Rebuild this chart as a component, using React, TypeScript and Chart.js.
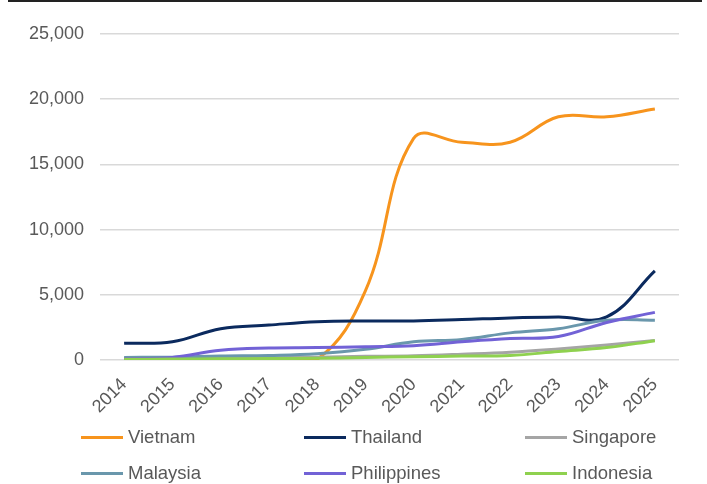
import React, { useEffect, useRef } from "react";
import { Chart, registerables } from "chart.js";

Chart.register(...registerables);

const years = ["2014", "2015", "2016", "2017", "2018", "2019", "2020", "2021", "2022", "2023", "2024", "2025"];
const vietnam = [0, 0, 0, 0, 50, 5300, 17000, 16700, 16700, 18650, 18650, 19250];
const thailand = [1280, 1400, 2400, 2680, 2930, 2990, 2990, 3100, 3230, 3300, 3300, 6830];
const singapore = [100, 120, 150, 180, 220, 280, 330, 450, 600, 850, 1150, 1500];
const malaysia = [200, 220, 300, 350, 480, 820, 1400, 1580, 2080, 2400, 3050, 3050];
const philippines = [100, 200, 750, 920, 950, 1020, 1100, 1400, 1650, 1800, 2880, 3650];
const indonesia = [50, 70, 90, 110, 130, 200, 250, 300, 350, 650, 950, 1480];
const yTicks = [0, 5000, 10000, 15000, 20000, 25000];

const seriesNames = ["Vietnam", "Thailand", "Singapore", "Malaysia", "Philippines", "Indonesia"];
const seriesColors = ["#F7941D", "#0B2A5E", "#A5A5A5", "#6A97AC", "#7262D6", "#8FD14F"];
const seriesData = [vietnam, thailand, singapore, malaysia, philippines, indonesia];

const FONT = "'Liberation Sans', Arial, sans-serif";
const TEXT = "#595959";

export default function App() {
  const ref = useRef<HTMLCanvasElement>(null);

  useEffect(() => {
    const chart = new Chart(ref.current!, {
      type: "line",
      data: {
        labels: years,
        datasets: seriesNames.map((name, i) => ({
          label: name,
          data: seriesData[i],
          borderColor: seriesColors[i],
          backgroundColor: seriesColors[i],
          borderWidth: 3,
          pointRadius: 0,
          tension: 0.4,
          fill: false,
          order: 6 - i,
        })),
      },
      options: {
        responsive: false,
        animation: false,
        layout: { padding: { top: 34, right: 28, bottom: 60, left: 0 } },
        plugins: { legend: { display: false }, tooltip: { enabled: false } },
        scales: {
          x: {
            offset: true,
            grid: { display: false, drawTicks: false },
            border: { display: false },
            ticks: {
              minRotation: 45,
              maxRotation: 45,
              padding: 14,
              color: TEXT,
              font: { family: FONT, size: 18 },
            },
            afterFit: (s: any) => {
              s.height = 64;
            },
          },
          y: {
            min: 0,
            max: 25000,
            afterBuildTicks: (s: any) => {
              s.ticks = yTicks.map((v) => ({ value: v }));
            },
            grid: { color: "#D9D9D9", lineWidth: 1.5, drawTicks: false },
            border: { display: false },
            ticks: {
              padding: 16,
              color: TEXT,
              font: { family: FONT, size: 18 },
              callback: (v: any) => Number(v).toLocaleString("en-US"),
            },
            afterFit: (s: any) => {
              s.width = 100;
            },
          },
        },
      },
    });
    return () => chart.destroy();
  }, []);

  const colX = [81, 304, 525];
  const rowY = [437, 473];

  return (
    <div
      style={{
        position: "absolute",
        left: 0,
        top: 0,
        width: 707,
        height: 484,
        background: "#fff",
        overflow: "hidden",
        fontFamily: FONT,
      }}
    >
      <div style={{ position: "absolute", left: 8, top: 0, width: 694, height: 2, background: "#222" }} />
      <canvas ref={ref} width={707} height={484} style={{ position: "absolute", left: 0, top: 0, width: 707, height: 484 }} />
      {seriesNames.map((name, i) => {
        const x = colX[i % 3];
        const y = rowY[Math.floor(i / 3)];
        return (
          <div key={name} style={{ position: "absolute", left: x, top: y - 14, height: 28, display: "flex", alignItems: "center" }}>
            <div style={{ width: 42, height: 3, background: seriesColors[i] }} />
            <span style={{ marginLeft: 5, fontSize: 18.5, color: TEXT, lineHeight: "28px", whiteSpace: "nowrap" }}>{name}</span>
          </div>
        );
      })}
    </div>
  );
}
